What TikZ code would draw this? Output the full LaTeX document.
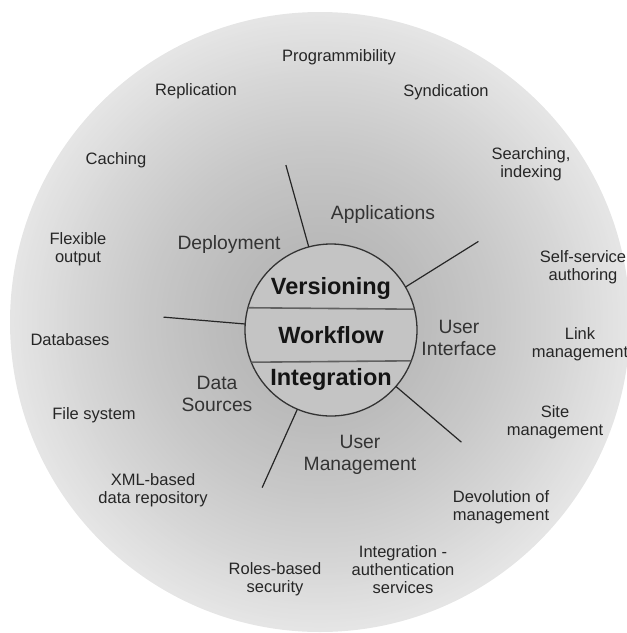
\documentclass[tikz,border=0pt]{standalone}
\usepackage{fontspec}
\setmainfont{Liberation Sans}
\tikzset{
  outer/.style={inner sep=0pt, align=center, text=black!85,
    font=\fontsize{16.5}{18}\selectfont},
  mid/.style={inner sep=0pt, align=center, text=black!80,
    font=\fontsize{19.3}{21.5}\selectfont},
  core/.style={inner sep=0pt, text=black!92,
    font=\bfseries\fontsize{23.5}{26}\selectfont},
  spoke/.style={draw=black!85, line width=1.2pt},
  divider/.style={draw=black!62, line width=1.6pt}
}
\begin{document}
\begin{tikzpicture}[x=1pt,y=1pt]
\useasboundingbox (0,0) rectangle (627,-633);

% outer disc: concentric rings, darker towards the middle
\foreach \i in {0,...,124}{
  \pgfmathsetmacro{\t}{1-\i/125}
  \pgfmathsetmacro{\p}{30-20*(\t)^1.5}
  \fill[black!\p] (320,-322) circle ({310*\t});
}

% central hub
\node[circle, minimum size=172pt, inner sep=0pt, outer sep=0pt,
      fill=black!23, draw=black!80, line width=1.3pt] (hub) at (331,-330) {};
\draw[divider] (hub.14.8) -- (hub.165.2);
\draw[divider] (hub.-21.8) -- (hub.-158.2);
\node[core] (vers) at (331,-288) {Versioning};
\node[core] (work) at (331,-335) {Workflow};
\node[core] (integ) at (331,-379) {Integration};

% spokes
\coordinate (s1) at ([shift={(331,-330)}]105.3:171);
\coordinate (s2) at ([shift={(331,-330)}]31:172);
\coordinate (s3) at ([shift={(331,-330)}]175.6:168);
\coordinate (s4) at ([shift={(331,-330)}]-40.7:172);
\coordinate (s5) at ([shift={(331,-330)}]-113.6:172);
\draw[spoke] (hub.105.3) -- (s1);
\draw[spoke] (hub.30) -- (s2);
\draw[spoke] (hub.176.6) -- (s3);
\draw[spoke] (hub.-41.8) -- (s4);
\draw[spoke] (hub.-113.6) -- (s5);

% sector labels
\node[mid] (apps)   at (383,-215) {Applications};
\node[mid] (deploy) at (229,-245) {Deployment};
\node[mid] (ui)     at (459,-338) {User\\Interface};
\node[mid] (ds)     at (217,-394) {Data\\Sources};
\node[mid] (um)     at (360,-455) {User\\Management};

% outer ring labels
\node[outer] (prog)   at (339,-57)  {Programmibility};
\node[outer] (repl)   at (196,-91)  {Replication};
\node[outer] (synd)   at (446,-92)  {Syndication};
\node[outer] (cache)  at (116,-160) {Caching};
\node[outer] (search) at (531,-164) {Searching,\\indexing};
\node[outer] (flex)   at (78,-249)  {Flexible\\output};
\node[outer] (self)   at (583,-267) {Self-service\\authoring};
\node[outer] (link)   at (580,-344) {Link\\management};
\node[outer] (db)     at (70,-340)  {Databases};
\node[outer] (fs)     at (94,-415)  {File system};
\node[outer] (site)   at (555,-422) {Site\\management};
\node[outer] (xml)    at (153,-490) {XML-based\\data repository};
\node[outer] (devo)   at (501,-507) {Devolution of\\management};
\node[outer] (auth)   at (403,-570) {Integration -\\authentication\\services};
\node[outer] (roles)  at (275,-579) {Roles-based\\security};
\end{tikzpicture}
\end{document}
